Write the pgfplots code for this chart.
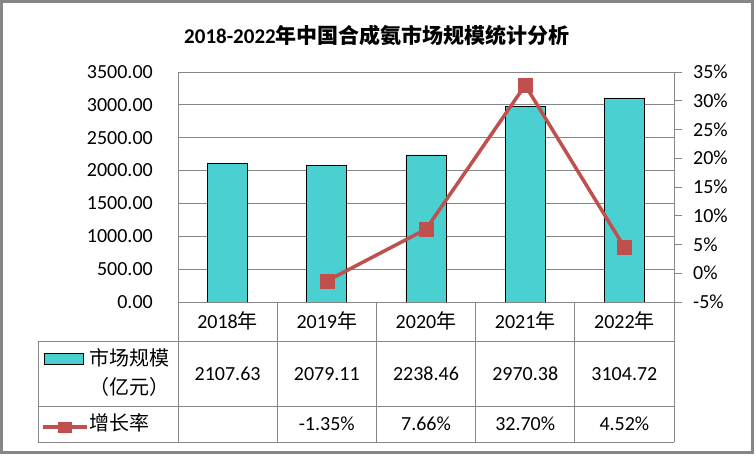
\documentclass[border=0pt]{standalone}
\usepackage{fontspec}
\setmainfont{Carlito}
\newfontfamily\cjk{Noto Sans CJK SC}
\usepackage{pgfplots}
\pgfplotsset{compat=1.18}

\definecolor{barfill}{RGB}{75,208,209}
\definecolor{linered}{RGB}{192,80,77}
\definecolor{gridgray}{RGB}{134,134,134}

\newcommand{\nian}{{\cjk 年}}
\newcommand{\lbl}{\fontsize{20}{24}\selectfont}

\begin{document}
\begin{tikzpicture}[x=1pt,y=-1pt]
\useasboundingbox (0,0) rectangle (756,456);
\fill[white] (0,0) rectangle (756,456);
\draw[gridgray, line width=2.5pt] (1.5,1.5) rectangle (752.5,452.5);
\node[font=\fontsize{21}{24}\selectfont\bfseries] at (377,35) {2018-2022{\cjk 年中国合成氨市场规模统计分析}};

% bars, left axis
\begin{axis}[
    at={(178pt,-302pt)}, anchor=south west,
    scale only axis, width=496pt, height=230pt,
    xmin=0.5, xmax=5.5, ymin=0, ymax=3500,
    xtick={1,2,3,4,5},
    xticklabels={2018\nian,2019\nian,2020\nian,2021\nian,2022\nian},
    xticklabel style={anchor=center, yshift=-19pt},
    xtick style={draw=none},
    ytick={0,500,...,3500},
    ytick pos=left,
    ytick style={draw=none},
    yticklabel style={inner sep=0pt, xshift=-25pt, /pgf/number format/.cd, fixed, fixed zerofill, precision=2, 1000 sep={}, assume math mode=true},
    ticklabel style={font=\lbl},
    axis line style={draw=none},
    ymajorgrids,
    grid style={gridgray, line width=1pt},
    clip=false,
]
\addplot[ybar, bar width=40pt, bar shift=0pt, fill=barfill, draw=black, line width=0.8pt] coordinates {
    (1,2107.63) (2,2079.11) (3,2238.46) (4,2970.38) (5,3104.72)
};
\end{axis}

% growth rate, right axis
\begin{axis}[
    at={(178pt,-302pt)}, anchor=south west,
    scale only axis, width=496pt, height=230pt,
    xmin=0.5, xmax=5.5, ymin=-5, ymax=35,
    hide x axis,
    ytick={-5,0,...,35},
    ytick pos=right,
    tick align=outside,
    major tick length=8pt,
    ytick style={gridgray, line width=1pt},
    yticklabel style={inner sep=0pt, xshift=11pt},
    yticklabel={\pgfmathprintnumber[assume math mode=true]{\tick}\%},
    ticklabel style={font=\lbl},
    axis line style={draw=none},
    clip=false,
]
\addplot[linered, line width=3.5pt, mark=square*, mark size=7pt, mark options={line width=0.5pt, fill=linered}] coordinates {
    (2,-1.35) (3,7.66) (4,32.70) (5,4.52)
};
\end{axis}

% axis lines and data table grid
\draw[gridgray, line width=1pt] (178,72) -- (178,442) (674,72) -- (674,442);
\draw[gridgray, line width=1pt] (178,302) -- (674,302)
    (38,341.5) -- (674,341.5) (38,406.5) -- (674,406.5) (38,442) -- (674,442)
    (38,341.5) -- (38,442);
\foreach \xx in {277.2,376.4,475.6,574.8} {
  \draw[gridgray, line width=1pt] (\xx,302) -- (\xx,442);
}

% legend keys
\draw[black, line width=0.8pt, fill=barfill] (44,353) rectangle (83,364);
\node[font=\lbl] at (129,358) {\cjk 市场规模};
\node[font=\lbl] at (129,387) {\cjk （亿元）};
\draw[linered, line width=4pt] (43,427) -- (87,427);
\fill[linered] (57.5,421.5) rectangle (71.5,432.5);
\node[font=\lbl] at (119,423) {\cjk 增长率};

% table values
\node[font=\lbl] at (227.6,374) {2107.63};
\node[font=\lbl] at (326.8,374) {2079.11};
\node[font=\lbl] at (426.0,374) {2238.46};
\node[font=\lbl] at (525.2,374) {2970.38};
\node[font=\lbl] at (624.4,374) {3104.72};
\node[font=\lbl] at (326.8,424) {-1.35\%};
\node[font=\lbl] at (426.0,424) {7.66\%};
\node[font=\lbl] at (525.2,424) {32.70\%};
\node[font=\lbl] at (624.4,424) {4.52\%};
\end{tikzpicture}
\end{document}
